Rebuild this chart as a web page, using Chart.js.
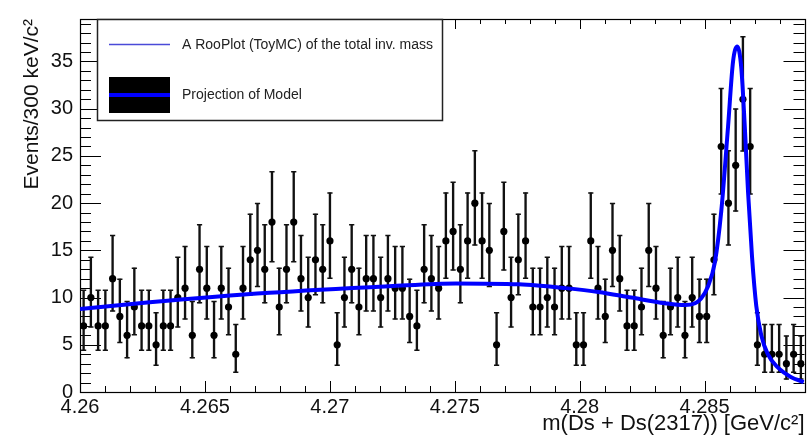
<!DOCTYPE html>
<html>
<head>
<meta charset="utf-8">
<script src="https://cdn.jsdelivr.net/npm/chart.js@4.4.1/dist/chart.umd.min.js"></script>
<style>
html,body{margin:0;padding:0;background:#ffffff;}
canvas{display:block;}
</style>
</head>
<body>
<canvas id="c" width="810" height="443"></canvas>
<script>
// ---------------- data ----------------
const xMin = 4.26;
const xMax = 4.289;
const nBins = 100;

// event counts per 300 keV bin
const counts = [
  7,10,7,7,12,8,6,9,7,7,5,7,7,10,11,6,13,11,6,11,9,4,11,14,15,13,18,9,13,18,12,
  10,14,13,16,5,10,13,9,12,12,10,12,11,11,8,7,13,12,11,16,17,13,16,20,16,15,5,17,10,14,
  16,9,9,10,9,11,11,5,5,16,11,8,15,12,7,7,9,15,11,6,9,10,6,10,8,8,14,26,20,
  24,31,26,5,4,4,4,3,4,3
];

// Poisson (68%) interval bounds per count, as drawn in the picture
const poissonN  = [3,    4,    5,    6,    7,    8,    9,    10,   11,   12,   13,   14,    15,    16,    17,    18,    19,    20,    24,    26,    31];
const poissonLo = [1.37, 2.09, 2.84, 3.62, 4.42, 5.23, 6.06, 6.89, 7.73, 8.58, 9.44, 10.30, 11.17, 12.04, 12.92, 13.80, 14.68, 15.57, 19.16, 20.97, 25.52];
const poissonHi = [5.92, 7.16, 8.38, 9.58, 10.77,11.95,13.11,14.27,15.42,16.56,17.70,18.83, 19.96, 21.08, 22.20, 23.32, 24.44, 25.55, 29.96, 32.15, 37.62];

// model projection curve
const curveX = [4.26000,4.26279,4.26758,4.27237,4.27504,4.27756,4.27943,4.28075,4.28207,4.28342,
                4.28422,4.28462,4.28486,4.28514,4.28541,4.28567,4.28594,4.28614,4.28631,4.28647,
                4.28661,4.28674,4.28690,4.28707,4.28727,4.28753,4.28793,4.28845,4.28897];
const curveY = [8.8,9.5,10.5,11.2,11.5,11.4,11.0,10.6,10.0,9.4,
                9.2,9.4,9.9,11.2,13.7,19.2,28.1,35.0,36.6,34.3,
                28.1,21.2,14.3,9.1,6.0,4.0,2.6,1.6,1.05];

const xTickValues = [4.26, 4.265, 4.27, 4.275, 4.28, 4.285];
const xTickLabels = ['4.26','4.265','4.27','4.275','4.28','4.285'];
const yTickValues = [0,5,10,15,20,25,30,35];
const yTickLabels = ['0','5','10','15','20','25','30','35'];
const yMax = 39.5;

const xTitle = 'm(Ds + Ds(2317)) [GeV/c\u00B2]';
const yTitle = 'Events/300 keV/c\u00B2';
const legendLabels = ['A RooPlot (ToyMC) of the total inv. mass', 'Projection of Model'];

// ---------------- build datasets ----------------
const binWidth = (xMax - xMin) / nBins;
const binCenters = counts.map((_, i) => xMin + (i + 0.5) * binWidth);
const lo = counts.map(n => poissonLo[poissonN.indexOf(n)]);
const hi = counts.map(n => poissonHi[poissonN.indexOf(n)]);

const pointData = counts.map((n, i) => ({x: binCenters[i], y: n}));
const barData = counts.map((n, i) => ({x: binCenters[i], y: [lo[i], hi[i]]}));
const capData = [];
counts.forEach((n, i) => { capData.push({x: binCenters[i], y: lo[i]}); capData.push({x: binCenters[i], y: hi[i]}); });
const curveData = curveX.map((x, i) => ({x: x, y: curveY[i]}));

const FONT = "'Liberation Sans', Arial, Helvetica, sans-serif";

// frame + inward ticks (ROOT style)
const frameTicks = {
  id: 'frameTicks',
  beforeDatasetsDraw(chart) {
    const {ctx, chartArea: a, scales: {x, y}} = chart;
    ctx.save();
    ctx.strokeStyle = '#000';
    ctx.lineWidth = 1;
    ctx.beginPath();
    for (let k = 0; k <= 29; k++) {
      const v = xMin + k * 0.001;
      if (v > xMax + 1e-9) break;
      const px = Math.round(x.getPixelForValue(v)) + 0.5;
      const major = k % 5 === 0;
      ctx.moveTo(px, a.bottom); ctx.lineTo(px, a.bottom - (major ? 11 : 6));
      ctx.moveTo(px, a.top); ctx.lineTo(px, a.top + (major ? 10 : 5));
    }
    for (let k = 0; k <= 39; k++) {
      if (k > yMax) break;
      const py = Math.round(y.getPixelForValue(k)) + 0.5;
      const major = k % 5 === 0;
      ctx.moveTo(a.left, py); ctx.lineTo(a.left + (major ? 21 : 11), py);
      ctx.moveTo(a.right, py); ctx.lineTo(a.right - (major ? 21 : 11), py);
    }
    ctx.stroke();
    ctx.lineWidth = 1.2;
    ctx.strokeRect(Math.round(a.left) + 0.5, Math.round(a.top) + 0.5, Math.round(a.right - a.left), Math.round(a.bottom - a.top));
    ctx.restore();
  }
};

// legend box (ROOT TLegend style)
const rootLegend = {
  id: 'rootLegend',
  afterDraw(chart) {
    const ctx = chart.ctx;
    ctx.save();
    const bx = 97, by = 19, bw = 345, bh = 101;
    ctx.fillStyle = '#fff';
    ctx.fillRect(bx, by, bw, bh);
    ctx.strokeStyle = '#222';
    ctx.lineWidth = 1.5;
    ctx.strokeRect(bx + 0.5, by + 0.5, bw, bh);
    // entry 1: thin blue line
    ctx.strokeStyle = '#4a4ad8';
    ctx.lineWidth = 1.5;
    ctx.beginPath(); ctx.moveTo(109, 44.5); ctx.lineTo(170, 44.5); ctx.stroke();
    // entry 2: black box with thick blue line
    ctx.fillStyle = '#000';
    ctx.fillRect(109, 77, 61, 36);
    ctx.strokeStyle = '#0000ff';
    ctx.lineWidth = 4;
    ctx.beginPath(); ctx.moveTo(109, 95); ctx.lineTo(170, 95); ctx.stroke();
    ctx.fillStyle = '#222';
    ctx.font = '14px ' + FONT;
    ctx.textBaseline = 'middle';
    ctx.textAlign = 'left';
    ctx.fillText(legendLabels[0], 182, 45);
    ctx.fillText(legendLabels[1], 182, 95);
    ctx.restore();
  }
};

new Chart(document.getElementById('c'), {
  type: 'scatter',
  data: {
    datasets: [
      {
        type: 'line',
        data: curveData,
        borderColor: '#0000ff',
        borderWidth: 4,
        pointRadius: 0,
        fill: false,
        cubicInterpolationMode: 'monotone',
        order: 0
      },
      {
        type: 'scatter',
        data: pointData,
        backgroundColor: '#000',
        borderColor: '#000',
        pointRadius: 3.6,
        borderWidth: 0,
        order: 1
      },
      {
        type: 'scatter',
        data: capData,
        pointStyle: 'line',
        pointRadius: 2.6,
        borderColor: '#111',
        borderWidth: 1.5,
        order: 2
      },
      {
        type: 'bar',
        data: barData,
        backgroundColor: '#111',
        borderWidth: 0,
        barThickness: 1.7,
        grouped: false,
        order: 3
      }
    ]
  },
  options: {
    responsive: false,
    animation: false,
    devicePixelRatio: 1,
    layout: {padding: {left: 0, right: 4, top: 10, bottom: 0}},
    plugins: {legend: {display: false}, tooltip: {enabled: false}},
    scales: {
      x: {
        type: 'linear',
        min: xMin, max: xMax,
        offset: false,
        grid: {display: false, drawTicks: false},
        border: {display: false},
        afterBuildTicks: s => { s.ticks = xTickValues.map(v => ({value: v})); },
        afterFit: s => { s.height = 51; },
        ticks: {
          autoSkip: false, maxRotation: 0, padding: 3,
          color: '#111',
          font: {family: FONT, size: 20},
          callback: (v, i) => xTickLabels[i]
        },
        title: {
          display: true, text: xTitle, align: 'end', color: '#111',
          font: {family: FONT, size: 22},
          padding: {top: 0, bottom: 6}
        }
      },
      y: {
        type: 'linear',
        min: 0, max: yMax,
        grid: {display: false, drawTicks: false},
        border: {display: false},
        afterBuildTicks: s => { s.ticks = yTickValues.map(v => ({value: v})); },
        afterFit: s => { s.width = 80; },
        ticks: {
          padding: 7,
          color: '#111',
          font: {family: FONT, size: 20},
          callback: (v, i) => yTickLabels[i]
        },
        title: {
          display: true, text: yTitle, align: 'end', color: '#111',
          font: {family: FONT, size: 21},
          padding: {top: 20, bottom: 0}
        }
      }
    }
  },
  plugins: [frameTicks, rootLegend]
});
</script>
</body>
</html>
